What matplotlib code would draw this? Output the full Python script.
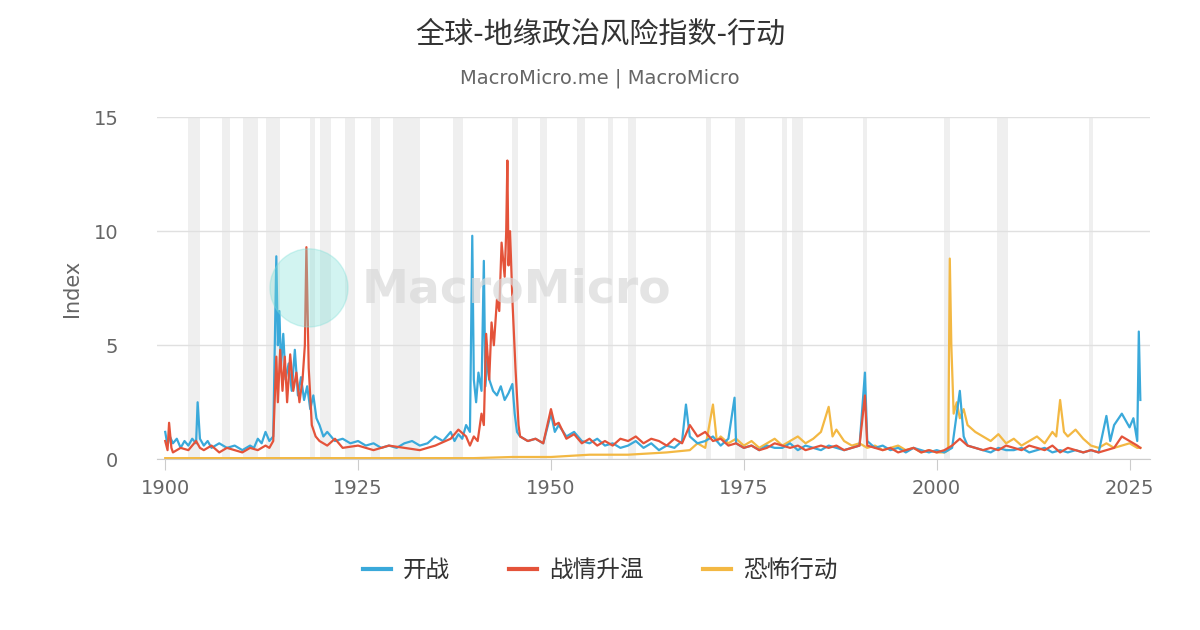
import matplotlib
matplotlib.use("Agg")
import matplotlib.pyplot as plt
from matplotlib.patches import Ellipse

plt.rcParams['font.family'] = ['DejaVu Sans', 'Noto Sans CJK SC']

title = "全球-地缘政治风险指数-行动"
subtitle = "MacroMicro.me | MacroMicro"
series_names = ["开战", "战情升温", "恐怖行动"]
colors = ["#3aa9da", "#e4533a", "#f3b843"]

recessions = [(1902.9, 1904.5), (1907.4, 1908.4), (1910.1, 1912.0), (1913.0, 1914.9),
              (1918.8, 1919.4), (1920.1, 1921.5), (1923.3, 1924.6), (1926.7, 1927.8),
              (1929.5, 1933.0), (1937.3, 1938.6), (1944.9, 1945.7), (1948.6, 1949.5),
              (1953.4, 1954.4), (1957.4, 1958.0), (1960.0, 1961.0), (1970.1, 1970.8),
              (1973.8, 1975.1), (1980.0, 1980.6), (1981.3, 1982.7), (1990.4, 1991.0),
              (2000.9, 2001.7), (2007.8, 2009.3), (2019.8, 2020.3)]

war_t = [1900, 1900.3, 1900.6, 1901, 1901.5, 1902, 1902.5, 1903, 1903.5, 1904, 1904.2, 1904.5, 1905, 1905.5,
         1906, 1907, 1908, 1909, 1910, 1911, 1911.5, 1912, 1912.5, 1913, 1913.5, 1914, 1914.4, 1914.6,
         1914.8, 1915, 1915.3, 1915.6, 1916, 1916.4, 1916.8, 1917.2, 1917.6, 1918, 1918.4, 1918.8,
         1919.2, 1919.6, 1920, 1920.5, 1921, 1922, 1923, 1924, 1925, 1926, 1927, 1928, 1929, 1930,
         1931, 1932, 1933, 1934, 1935, 1936, 1937, 1937.5, 1938, 1938.5, 1939, 1939.5, 1939.8, 1940,
         1940.3, 1940.6, 1941, 1941.3, 1941.5, 1941.8, 1942, 1942.5, 1943, 1943.5, 1944, 1944.5, 1945,
         1945.3, 1945.6, 1946, 1947, 1948, 1949, 1950, 1950.5, 1951, 1952, 1953, 1954, 1955, 1956,
         1957, 1958, 1959, 1960, 1961, 1962, 1963, 1964, 1965, 1966, 1967, 1967.5, 1968, 1969, 1970,
         1971, 1972, 1973, 1973.8, 1974, 1975, 1976, 1977, 1978, 1979, 1980, 1981, 1982, 1983, 1984,
         1985, 1986, 1987, 1988, 1989, 1990, 1990.7, 1991, 1992, 1993, 1994, 1995, 1996, 1997, 1998,
         1999, 2000, 2001, 2002, 2003, 2003.5, 2004, 2005, 2006, 2007, 2008, 2009, 2010, 2011, 2012,
         2013, 2014, 2015, 2016, 2017, 2018, 2019, 2020, 2021, 2022, 2022.5, 2023, 2024, 2025,
         2025.5, 2026, 2026.2, 2026.4]
war_v = [1.2, 0.6, 1.0, 0.7, 0.9, 0.5, 0.8, 0.6, 0.9, 0.7, 2.5, 0.9, 0.6, 0.8,
         0.5, 0.7, 0.5, 0.6, 0.4, 0.6, 0.5, 0.9, 0.7, 1.2, 0.8, 1.0, 8.9, 5.0,
         6.5, 4.0, 5.5, 3.5, 4.2, 3.0, 4.8, 2.8, 3.6, 2.6, 3.2, 2.2,
         2.8, 1.8, 1.5, 1.0, 1.2, 0.8, 0.9, 0.7, 0.8, 0.6, 0.7, 0.5, 0.6, 0.5,
         0.7, 0.8, 0.6, 0.7, 1.0, 0.8, 1.2, 0.8, 1.1, 0.9, 1.5, 1.2, 9.8, 3.5,
         2.5, 3.8, 3.0, 8.7, 3.2, 4.5, 3.5, 3.0, 2.8, 3.2, 2.6, 2.9, 3.3,
         2.0, 1.2, 1.0, 0.8, 0.9, 0.7, 2.0, 1.2, 1.5, 1.0, 1.2, 0.8, 0.7, 0.9,
         0.6, 0.7, 0.5, 0.6, 0.8, 0.5, 0.7, 0.4, 0.6, 0.5, 0.8, 2.4, 1.0, 0.7, 0.8,
         1.0, 0.6, 0.9, 2.7, 0.7, 0.5, 0.6, 0.4, 0.6, 0.5, 0.5, 0.7, 0.4, 0.6, 0.5,
         0.4, 0.6, 0.5, 0.4, 0.5, 0.6, 3.8, 0.8, 0.5, 0.6, 0.4, 0.5, 0.3, 0.5, 0.4,
         0.3, 0.4, 0.3, 0.5, 3.0, 1.0, 0.6, 0.5, 0.4, 0.3, 0.5, 0.4, 0.4, 0.5, 0.3,
         0.4, 0.5, 0.3, 0.4, 0.3, 0.4, 0.3, 0.4, 0.3, 1.9, 0.8, 1.5, 2.0, 1.4,
         1.8, 0.8, 5.6, 2.6]

esc_t = [1900, 1900.3, 1900.5, 1900.8, 1901, 1902, 1903, 1904, 1904.5, 1905, 1906, 1907, 1908, 1909,
         1910, 1911, 1912, 1913, 1913.5, 1914, 1914.4, 1914.6, 1914.9, 1915.2, 1915.5, 1915.8, 1916.2,
         1916.6, 1917, 1917.4, 1917.8, 1918.1, 1918.3, 1918.6, 1919, 1919.5, 1920, 1921, 1922, 1923,
         1925, 1927, 1929, 1931, 1933, 1935, 1937, 1938, 1939, 1939.5, 1940, 1940.5, 1941, 1941.3,
         1941.6, 1942, 1942.3, 1942.6, 1943, 1943.3, 1943.6, 1944, 1944.2, 1944.35, 1944.5, 1944.7,
         1945, 1945.4, 1945.8, 1946, 1947, 1948, 1949, 1950, 1950.5, 1951, 1952, 1953, 1954, 1955,
         1956, 1957, 1958, 1959, 1960, 1961, 1962, 1963, 1964, 1965, 1966, 1967, 1968, 1969, 1970,
         1971, 1972, 1973, 1974, 1975, 1976, 1977, 1978, 1979, 1980, 1981, 1982, 1983, 1984, 1985,
         1986, 1987, 1988, 1989, 1990, 1990.7, 1991, 1992, 1993, 1994, 1995, 1996, 1997, 1998, 1999,
         2000, 2001, 2002, 2003, 2004, 2005, 2006, 2007, 2008, 2009, 2010, 2011, 2012, 2013, 2014,
         2015, 2016, 2017, 2018, 2019, 2020, 2021, 2022, 2023, 2024, 2025, 2026, 2026.4]
esc_v = [0.8, 0.4, 1.6, 0.5, 0.3, 0.5, 0.4, 0.8, 0.5, 0.4, 0.6, 0.3, 0.5, 0.4,
         0.3, 0.5, 0.4, 0.6, 0.5, 0.8, 4.5, 2.5, 4.8, 3.0, 4.5, 2.5, 4.6,
         3.0, 3.8, 2.5, 3.5, 5.0, 9.3, 4.0, 1.5, 1.0, 0.8, 0.6, 0.9, 0.5,
         0.6, 0.4, 0.6, 0.5, 0.4, 0.6, 0.9, 1.3, 1.0, 0.6, 1.0, 0.8, 2.0, 1.5,
         5.5, 3.5, 6.0, 5.0, 7.0, 6.5, 9.5, 8.0, 10.0, 13.1, 8.5, 10.0,
         7.0, 4.0, 1.5, 1.0, 0.8, 0.9, 0.7, 2.2, 1.5, 1.6, 0.9, 1.1, 0.7, 0.9,
         0.6, 0.8, 0.6, 0.9, 0.8, 1.0, 0.7, 0.9, 0.8, 0.6, 0.9, 0.7, 1.5, 1.0, 1.2,
         0.8, 0.9, 0.6, 0.7, 0.5, 0.6, 0.4, 0.5, 0.7, 0.6, 0.5, 0.6, 0.4, 0.5, 0.6,
         0.5, 0.6, 0.4, 0.5, 0.6, 2.8, 0.6, 0.5, 0.4, 0.5, 0.3, 0.4, 0.5, 0.3, 0.4,
         0.3, 0.4, 0.6, 0.9, 0.6, 0.5, 0.4, 0.5, 0.4, 0.6, 0.5, 0.4, 0.6, 0.5, 0.4,
         0.6, 0.3, 0.5, 0.4, 0.3, 0.4, 0.3, 0.4, 0.5, 1.0, 0.8, 0.6, 0.5]

ter_t = [1900, 1910, 1920, 1930, 1940, 1945, 1950, 1955, 1960, 1965, 1968, 1969, 1970, 1971, 1971.5,
         1972, 1973, 1974, 1975, 1976, 1977, 1978, 1979, 1980, 1981, 1982, 1983, 1984, 1985, 1986,
         1986.5, 1987, 1988, 1989, 1990, 1991, 1992, 1993, 1994, 1995, 1996, 1997, 1998, 1999, 2000,
         2001, 2001.5, 2001.7, 2001.9, 2002.2, 2002.6, 2003, 2003.5, 2004, 2005, 2006, 2007, 2008,
         2009, 2010, 2011, 2012, 2013, 2014, 2015, 2015.5, 2016, 2016.5, 2017, 2018, 2019, 2020,
         2021, 2022, 2023, 2024, 2025, 2026, 2026.4]
ter_v = [0.05, 0.05, 0.05, 0.05, 0.05, 0.1, 0.1, 0.2, 0.2, 0.3, 0.4, 0.7, 0.5, 2.4, 0.8,
         1.0, 0.7, 0.9, 0.6, 0.8, 0.5, 0.7, 0.9, 0.6, 0.8, 1.0, 0.7, 0.9, 1.2, 2.3,
         1.0, 1.3, 0.8, 0.6, 0.7, 0.5, 0.6, 0.4, 0.5, 0.6, 0.4, 0.5, 0.3, 0.4, 0.3,
         0.3, 0.4, 8.8, 5.0, 2.0, 2.5, 1.8, 2.2, 1.5, 1.2, 1.0, 0.8, 1.1,
         0.7, 0.9, 0.6, 0.8, 1.0, 0.7, 1.2, 1.0, 2.6, 1.2, 1.0, 1.3, 0.9, 0.6,
         0.5, 0.7, 0.5, 0.6, 0.7, 0.5, 0.5]

fig = plt.figure(figsize=(12, 6.3), dpi=100)
ax = fig.add_axes([0.131, 0.271, 0.827, 0.543])
for a, b in recessions:
    ax.axvspan(a, b, color="#efefef", lw=0, zorder=0)
ax.plot(war_t, war_v, color=colors[0], lw=1.6, zorder=3, label=series_names[0])
ax.plot(esc_t, esc_v, color=colors[1], lw=1.6, zorder=4, label=series_names[1])
ax.plot(ter_t, ter_v, color=colors[2], lw=1.6, zorder=2, label=series_names[2])

ax.set_xlim(1898.96, 2027.6)
ax.set_ylim(0, 15)
ax.set_yticks([0, 5, 10, 15])
ax.set_xticks([1900, 1925, 1950, 1975, 2000, 2025])
ax.grid(axis='y', color="#e0e0e0", lw=1)
ax.set_axisbelow(True)
for s in ["left", "right", "top"]:
    ax.spines[s].set_visible(False)
ax.spines["bottom"].set_color("#cccccc")
ax.tick_params(axis='y', length=0, labelsize=14, labelcolor="#666666", pad=28)
ax.tick_params(axis='x', length=8, color="#cccccc", labelsize=14, labelcolor="#666666", pad=6)
ax.set_ylabel("Index", fontsize=15, color="#666666", labelpad=8)

fig.text(0.5, 0.945, title, ha='center', va='center', fontsize=21, color="#333333")
fig.text(0.5, 0.876, subtitle, ha='center', va='center', fontsize=14, color="#666666")

# watermark
fig.patches.append(Ellipse((0.2575, 0.543), 0.065, 0.124, transform=fig.transFigure,
                           color="#7fe0d8", alpha=0.35, zorder=1))
fig.text(0.43, 0.54, "MacroMicro", ha='center', va='center', fontsize=34, color="#d9d9d9",
         alpha=0.7, fontweight='bold', zorder=1)

leg = fig.legend(loc='center', bbox_to_anchor=(0.5, 0.095), ncol=3, frameon=False,
                 fontsize=17, handlelength=1.2, columnspacing=2.5, handletextpad=0.5)
for t in leg.get_texts():
    t.set_color("#333333")
for l in leg.get_lines():
    l.set_linewidth(3)

fig.savefig("out.png", dpi=100)
